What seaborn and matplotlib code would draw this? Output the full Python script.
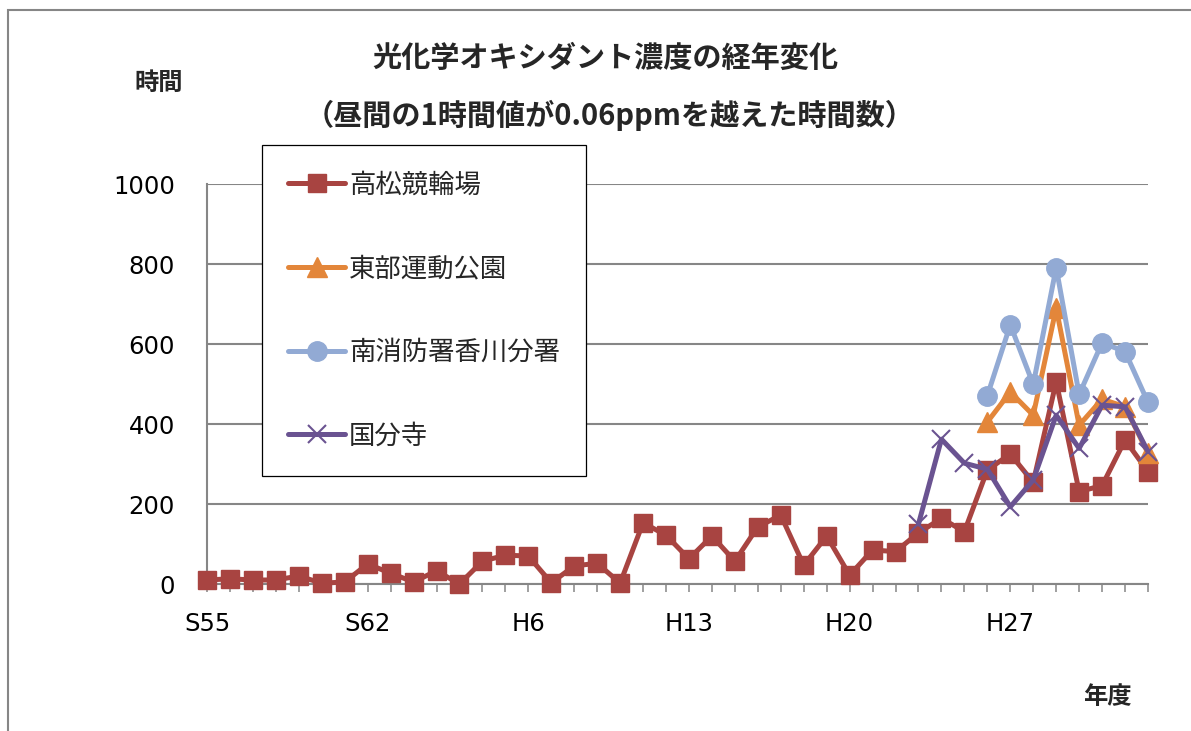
import matplotlib
matplotlib.use("Agg")
import matplotlib.pyplot as plt
from matplotlib.patches import Rectangle
from matplotlib.font_manager import FontProperties
import seaborn as sns
import numpy as np
import pandas as pd

# ---------------- data ----------------
years = (["S" + str(y) for y in range(55, 64)] +
         ["H" + str(y) for y in range(1, 31)] +
         ["R" + str(y) for y in range(1, 4)])

takamatsu = [10, 13, 10, 10, 20, 2, 5, 50, 27, 5, 33, 0, 57, 72, 70, 3, 45, 52, 2,
             153, 122, 63, 120, 57, 143, 172, 47, 120, 22, 85, 81, 128, 164, 131,
             285, 325, 254, 506, 231, 246, 360, 281]
tobu_start = "H26"
tobu = [405, 480, 422, 690, 397, 462, 443, 327]
minami_start = "H26"
minami = [471, 648, 499, 791, 474, 603, 581, 454]
kokubunji_start = "H23"
kokubunji = [150, 362, 302, 287, 193, 260, 422, 339, 447, 443, 331]

series_names = ["高松競輪場", "東部運動公園", "南消防署香川分署", "国分寺"]
label_every = 7

title1 = "光化学オキシダント濃度の経年変化"
title2 = "（昼間の1時間値が0.06ppmを越えた時間数）"
ylabel = "時間"
xlabel = "年度"

# ---------------- style ----------------
sns.set_style("white")
plt.rcParams["font.family"] = ["DejaVu Sans", "Noto Sans CJK JP"]
jp = ["Noto Sans CJK JP", "DejaVu Sans"]

W, H = 1191, 731
fig = plt.figure(figsize=(W / 100, H / 100), dpi=100)
ax = fig.add_axes([207 / W, 1 - 584 / H, (1148 - 207) / W, 400 / H])

grey = "#868686"
colors = ["#A84441", "#E3863A", "#92AAD4", "#6A5391"]


def frame(start, vals):
    i0 = years.index(start)
    return pd.DataFrame({"x": np.arange(i0, i0 + len(vals)), "y": vals})


data = [frame("S55", takamatsu), frame(tobu_start, tobu),
        frame(minami_start, minami), frame(kokubunji_start, kokubunji)]
markers = ["s", "^", "o", "x"]
msizes = [13.5, 14, 14, 13]
mews = [1, 1, 1, 1.5]

for d, name, c, m, ms, mw in zip(data, series_names, colors, markers, msizes, mews):
    sns.lineplot(data=d, x="x", y="y", ax=ax, color=c, marker=m, markersize=ms,
                 markeredgecolor=c, markeredgewidth=mw, linewidth=3.6,
                 label=name, clip_on=False, zorder=3, errorbar=None)

# axes
ax.set_xlim(0, len(years) - 1)
ax.set_ylim(0, 1000)
ax.set_yticks(range(0, 1001, 200))
ax.set_xticks(range(len(years)))
ax.set_xticklabels([y if i % label_every == 0 else "" for i, y in enumerate(years)])
ax.set_xlabel("")
ax.set_ylabel("")
ax.yaxis.grid(True, color=grey, linewidth=1.5)
ax.xaxis.grid(False)
for s in ["top", "right"]:
    ax.spines[s].set_visible(False)
for s in ["left", "bottom"]:
    ax.spines[s].set_color(grey)
    ax.spines[s].set_linewidth(1.5)
ax.tick_params(axis="y", length=0, pad=23, labelsize=17.5, labelcolor="black")
ax.tick_params(axis="x", length=6, width=1.1, color=grey, direction="out",
               pad=14, labelsize=17.5, labelcolor="black", bottom=True)

# legend
handles, labels = ax.get_legend_handles_labels()
leg = ax.legend(handles, labels, loc="upper left",
                bbox_to_anchor=(262 / W, 1 - 145 / H), bbox_transform=fig.transFigure,
                frameon=True, fancybox=False, framealpha=1, edgecolor="black",
                borderpad=1.0, labelspacing=2.15, handlelength=2.15, handletextpad=0.15,
                borderaxespad=0, numpoints=1,
                prop=FontProperties(family=jp, size=19))
leg.get_frame().set_linewidth(0.9)
leg.set_zorder(5)

# texts
fig.text(605 / W, 1 - 58 / H, title1, ha="center", va="center", fontsize=21,
         fontweight="bold", family=jp)
fig.text(610 / W, 1 - 115 / H, title2, ha="center", va="center", fontsize=21,
         fontweight="bold", family=jp)
fig.text(159 / W, 1 - 83 / H, ylabel, ha="center", va="center", fontsize=17.5,
         fontweight="bold", family=jp)
fig.text(1107 / W, 1 - 697 / H, xlabel, ha="center", va="center", fontsize=17.5,
         fontweight="bold", family=jp)

# outer chart frame
fig.patches.append(Rectangle((8 / W, -0.1), 1.2, 1 - 10 / H + 0.1,
                             transform=fig.transFigure, fill=False,
                             edgecolor=grey, linewidth=1.5, zorder=0))

fig.savefig("out.png", dpi=100)
